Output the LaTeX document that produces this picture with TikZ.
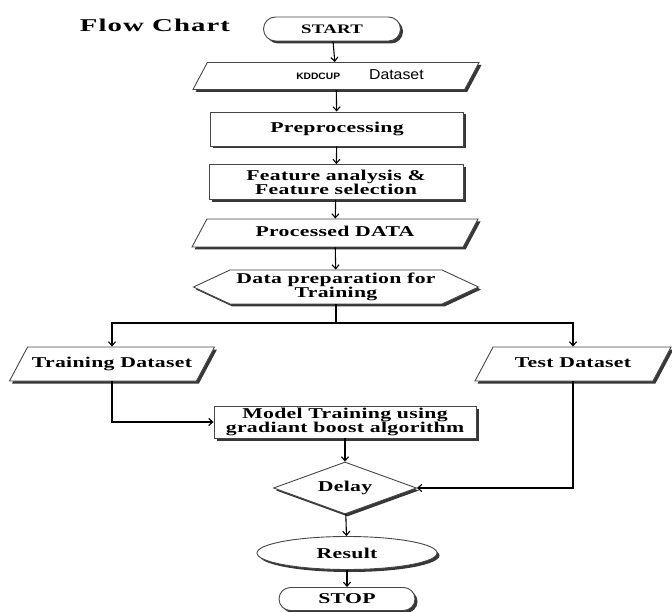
\documentclass[tikz,border=0pt]{standalone}
\usepackage{fontspec}
\usepackage{tikz}
\usetikzlibrary{arrows.meta,positioning,shapes.geometric,shapes.misc,shapes.symbols,shadows}
\newfontfamily\chartfont{Liberation Serif}[UprightFont={* Bold},FakeStretch=1.45,LetterSpace=2]
\newfontfamily\headfont{Liberation Serif}[UprightFont={* Bold},FakeStretch=1.6,LetterSpace=6]
\newfontfamily\kddfont[FakeStretch=1.1]{Liberation Sans}
\definecolor{inkbox}{RGB}{70,70,70}
\definecolor{inkshade}{RGB}{55,55,55}
\newcommand{\boxfont}{\chartfont\fontsize{15}{14}\selectfont}

\tikzset{
  base/.style={draw=inkbox, line width=0.9pt, fill=white, font=\boxfont,
    align=center, inner sep=0pt,
    drop shadow={shadow xshift=2.5pt, shadow yshift=-2.5pt, fill=inkshade, opacity=1}},
  procbox/.style={base, rectangle, minimum width=#1pt, minimum height=34pt},
  % #1 = full width, #2 = inner ysep (sets the height, and so the slant)
  iobox/.style 2 args={base, trapezium, trapezium left angle=62, trapezium right angle=118,
    trapezium stretches body, minimum width=#1pt, text height=10pt, text depth=3pt,
    inner ysep=#2pt},
  termbox/.style={base, rounded rectangle, minimum width=137pt, minimum height=24pt},
  link/.style={line width=1.1pt, -{Straight Barb[length=4pt,width=7pt]}},
}

\begin{document}
\begin{tikzpicture}[x=1pt,y=-1pt]
  \useasboundingbox (0,0) rectangle (672,612);
  % ---- heading and start
  \node[font=\headfont\fontsize{18}{20}\selectfont] (title) at (155,25) {Flow Chart};
  \node[termbox, font=\chartfont\fontsize{13}{14}\selectfont] (start) at (332,29) {START};
  % ---- data path
  \node[iobox={286}{7}] (kdd) at (336,76)
      {\hspace*{48pt}{\kddfont\bfseries\fontsize{9.3}{10}\selectfont KDDCUP}\hspace{29pt}{\kddfont\fontsize{14.4}{16}\selectfont Dataset}};
  \node[procbox=253] (prep) at (337,129) {Preprocessing};
  \node[procbox=254, minimum height=35pt] (feat) at (336,182) {Feature analysis \&\\Feature selection};
  \node[iobox={286}{7.5}] (proc) at (335,233) {Processed DATA};
  \node[base, signal, signal to=west and east, signal pointer angle=50,
        minimum width=285pt, minimum height=34pt] (prepare) at (336,287)
      {Data preparation for\\Training};
  % ---- split into train / test
  \coordinate (split) at (336,323);
  \node[iobox={205}{10.5}] (train) at (112,364) {Training Dataset};
  \node[iobox={196}{10.5}] (test) at (573,364) {Test Dataset};
  \node[procbox=262, minimum height=32pt] (model) at (345,422) {Model Training using\\gradiant boost algorithm};
  % ---- end of chart
  \node[base, diamond, aspect=2.75, minimum width=143pt, minimum height=52pt] (delay) at (345,488) {Delay};
  \node[base, ellipse, minimum width=180pt, minimum height=33pt] (result) at (347,553) {Result};
  \node[termbox, minimum width=136pt, minimum height=23pt] (stop) at (347,599) {STOP};
  % ---- connectors
  \draw[link] (start) -- (kdd);
  \draw[link] (kdd) -- (prep);
  \draw[link] (prep) -- (feat);
  \draw[link] (feat) -- (proc);
  \draw[link] (proc) -- (prepare);
  \draw[line width=1.1pt] (prepare) -- (split);
  \draw[link] (split) -| (train);
  \draw[link] (split) -| (test);
  \draw[link] (train) |- (model);
  \draw[link] (model) -- (delay);
  \draw[link] (test) |- (delay);
  \draw[link] (delay) -- (result);
  \draw[link] (result) -- (stop);
\end{tikzpicture}
\end{document}
